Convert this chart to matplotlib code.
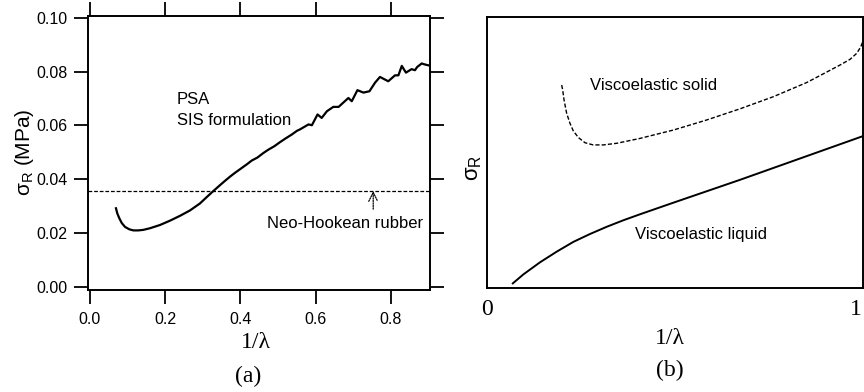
import matplotlib
matplotlib.use("Agg")
import matplotlib.pyplot as plt

plt.rcParams['font.family'] = ['Liberation Sans', 'DejaVu Sans']
plt.rcParams['mathtext.fontset'] = 'custom'
plt.rcParams['mathtext.rm'] = 'Liberation Sans'

# ---- Panel (a) data: PSA SIS formulation ----
psa_x = [0.0691, 0.0726, 0.0780, 0.0842, 0.0930, 0.1046, 0.1152, 0.1285, 0.1418, 0.1595,
         0.1860, 0.2126, 0.2392, 0.2658, 0.2924, 0.310, 0.324, 0.345, 0.360, 0.372,
         0.385, 0.400, 0.417, 0.430, 0.445, 0.461, 0.475, 0.490, 0.505, 0.520,
         0.536, 0.550, 0.559, 0.581, 0.590,
         0.605, 0.616, 0.630, 0.647, 0.661, 0.687, 0.696, 0.711, 0.727, 0.743,
         0.758, 0.771, 0.793, 0.811, 0.820, 0.829, 0.840, 0.855, 0.864, 0.870,
         0.882, 0.891, 0.900]
psa_y = [0.0293, 0.0274, 0.0256, 0.0239, 0.0224, 0.0215, 0.0211, 0.0211, 0.0213, 0.0219,
         0.0231, 0.0247, 0.0265, 0.0285, 0.0311, 0.0334, 0.0352, 0.0378, 0.0396, 0.0410,
         0.0424, 0.0439, 0.0456, 0.0470, 0.0481, 0.0498, 0.0511, 0.0523, 0.0538, 0.0552,
         0.0566, 0.0580, 0.0586, 0.0604, 0.0601,
         0.0641, 0.0628, 0.0653, 0.0669, 0.0669, 0.0702, 0.0690, 0.0731, 0.0722, 0.0727,
         0.0759, 0.0780, 0.0764, 0.0786, 0.0786, 0.0821, 0.0796, 0.0809, 0.0805, 0.0817,
         0.0830, 0.0826, 0.0823]
neo_hookean = 0.0357
arrow_x = 0.753
arrow_tail = 0.029

a_xticks = [0.0, 0.2, 0.4, 0.6, 0.8]
a_xticklabels = ['0.0', '0.2', '0.4', '0.6', '0.8']
a_yticks = [0.00, 0.02, 0.04, 0.06, 0.08, 0.10]
a_yticklabels = ['0.00', '0.02', '0.04', '0.06', '0.08', '0.10']

# ---- Panel (b) data: schematic ----
solid_x = [0.2026, 0.2053, 0.209, 0.216, 0.225, 0.234, 0.248, 0.266, 0.288, 0.316,
           0.352, 0.415, 0.506, 0.596, 0.686, 0.777, 0.867, 0.912, 0.958, 0.985,
           1.003, 1.014, 1.021]
solid_y = [0.749, 0.731, 0.694, 0.645, 0.608, 0.580, 0.555, 0.536, 0.528, 0.528,
           0.534, 0.552, 0.583, 0.620, 0.661, 0.706, 0.758, 0.790, 0.823, 0.844,
           0.866, 0.890, 0.915]
liquid_x = [0.070, 0.0985, 0.144, 0.189, 0.234, 0.279, 0.325, 0.370, 0.415, 0.506,
            0.596, 0.686, 1.021]
liquid_y = [0.017, 0.050, 0.095, 0.134, 0.170, 0.199, 0.226, 0.250, 0.272, 0.315,
            0.357, 0.399, 0.561]
b_xticks = [0, 1]
b_xticklabels = ['0', '1']

W, H = 864, 392
fig = plt.figure(figsize=(W / 100, H / 100), dpi=100)

def box(l, r, t, b):
    return [l / W, 1 - b / H, (r - l) / W, (b - t) / H]

serif = ['Liberation Serif', 'DejaVu Serif']

# ---------------- Panel (a) ----------------
ax1 = fig.add_axes(box(88, 430, 16, 290))
ax1.plot(psa_x, psa_y, color='black', lw=1.6, solid_joinstyle='round')
ax1.axhline(neo_hookean, color='black', lw=0.9, ls=(0, (3, 1.5)))
ax1.annotate('', xy=(arrow_x, neo_hookean), xytext=(arrow_x, arrow_tail),
             arrowprops=dict(arrowstyle='->', color='black', lw=0.9,
                             linestyle=(0, (1, 1)), shrinkA=0, shrinkB=0,
                             mutation_scale=16))
ax1.text(0.231, 0.0697, 'PSA', fontsize=12, va='center', ha='left')
ax1.text(0.231, 0.0620, 'SIS formulation', fontsize=12, va='center', ha='left')
ax1.text(0.470, 0.0238, 'Neo-Hookean rubber', fontsize=12, va='center', ha='left')
ax1.set_xlim(-0.0053, 0.904)
ax1.set_ylim(-0.001, 0.1006)
ax1.set_xticks(a_xticks)
ax1.set_xticklabels(a_xticklabels)
ax1.set_yticks(a_yticks)
ax1.set_yticklabels(a_yticklabels)
ax1.tick_params(axis='both', which='both', direction='out', length=10, width=1.3,
                labelsize=11.5, top=True, right=True)
ax1.tick_params(axis='x', pad=6)
ax1.tick_params(axis='y', pad=5)
for s in ax1.spines.values():
    s.set_linewidth(1.4)

fig.text(24 / W, 1 - 152 / H, r'σ$_\mathregular{R}$ (MPa)', rotation=90,
         fontsize=15, ha='center', va='center')
fig.text(256 / W, 1 - 343 / H, '1/λ', family=serif, fontsize=17,
         ha='center', va='center')
fig.text(248 / W, 1 - 376 / H, '(a)', family=serif, fontsize=17,
         ha='center', va='center')

# ---------------- Panel (b) ----------------
ax2 = fig.add_axes(box(487, 863, 17, 288))
ax2.plot(solid_x, solid_y, color='black', lw=1.0, ls=(0, (3, 1.5)))
ax2.plot(liquid_x, liquid_y, color='black', lw=1.4, solid_joinstyle='round')
ax2.text(0.279, 0.749, 'Viscoelastic solid', fontsize=12, va='center', ha='left')
ax2.text(0.401, 0.196, 'Viscoelastic liquid', fontsize=12, va='center', ha='left')
ax2.set_xlim(0, 1.02)
ax2.set_ylim(0, 1)
ax2.set_xticks(b_xticks)
ax2.set_xticklabels(b_xticklabels, family=serif, fontsize=17)
ax2.set_yticks([])
ax2.tick_params(axis='x', length=0, pad=8)
for s in ax2.spines.values():
    s.set_linewidth(1.4)

fig.text(473 / W, 1 - 168 / H, r'σ$_\mathregular{R}$', rotation=90,
         fontsize=16, ha='center', va='center')
fig.text(670 / W, 1 - 339 / H, '1/λ', family=serif, fontsize=17,
         ha='center', va='center')
fig.text(670 / W, 1 - 370 / H, '(b)', family=serif, fontsize=17,
         ha='center', va='center')

fig.savefig('out.png', dpi=100)
